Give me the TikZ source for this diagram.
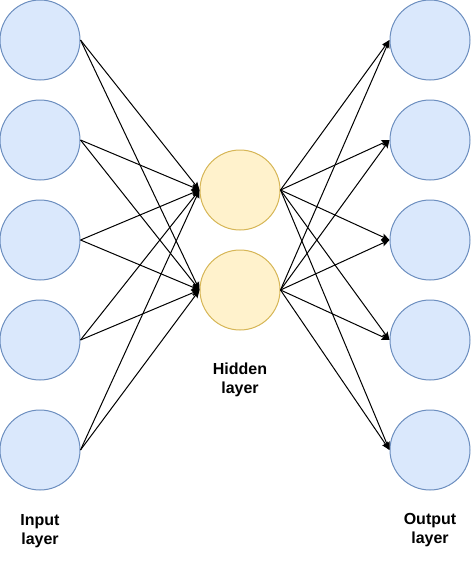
\documentclass[tikz,border=0pt]{standalone}
\usepackage{fontspec}
\setmainfont{Liberation Sans}
\usetikzlibrary{arrows.meta}
\definecolor{inpfill}{HTML}{DAE8FC}
\definecolor{inpline}{HTML}{6C8EBF}
\definecolor{hidfill}{HTML}{FFF2CC}
\definecolor{hidline}{HTML}{D6B656}
\tikzset{neuron/.style={circle,minimum size=60pt,inner sep=0pt,line width=0.75pt},
 inp/.style={neuron,draw=inpline,fill=inpfill},
 hid/.style={neuron,draw=hidline,fill=hidfill},
 conn/.style={line width=0.75pt,-{Stealth[length=6pt,width=5pt,inset=1.2pt]}},
 lbl/.style={align=center,inner sep=0pt,font=\bfseries\fontsize{12}{13.9}\selectfont},
 }

\begin{document}
\begin{tikzpicture}[x=0.75pt,y=-0.75pt]
        \useasboundingbox (0,0) rectangle (471,561);
        % input and output layers
        \foreach \y[count=\i] in {40, 140, 240, 340, 450} {
            \node[inp] (in\i) at (40, \y) {};
            \node[inp] (out\i) at (430, \y) {};
        }
        % hidden layer
        \node[hid] (hid1) at (240, 190) {};
        \node[hid] (hid2) at (240, 290) {};
        \foreach \i in {1, ..., 5} {
            \foreach \j in {1, 2} {
                \draw[conn] (in\i.east) -- (hid\j.west);
                \draw[conn] (hid\j.east) -- (out\i.west);
            }
        }
        \node[lbl] (inlbl) at (40, 531) {Input\\layer};
        \node[lbl] (hidlbl) at (240, 380) {Hidden\\layer};
        \node[lbl] (outlbl) at (430, 530) {Output\\layer};
    \end{tikzpicture}
\end{document}
